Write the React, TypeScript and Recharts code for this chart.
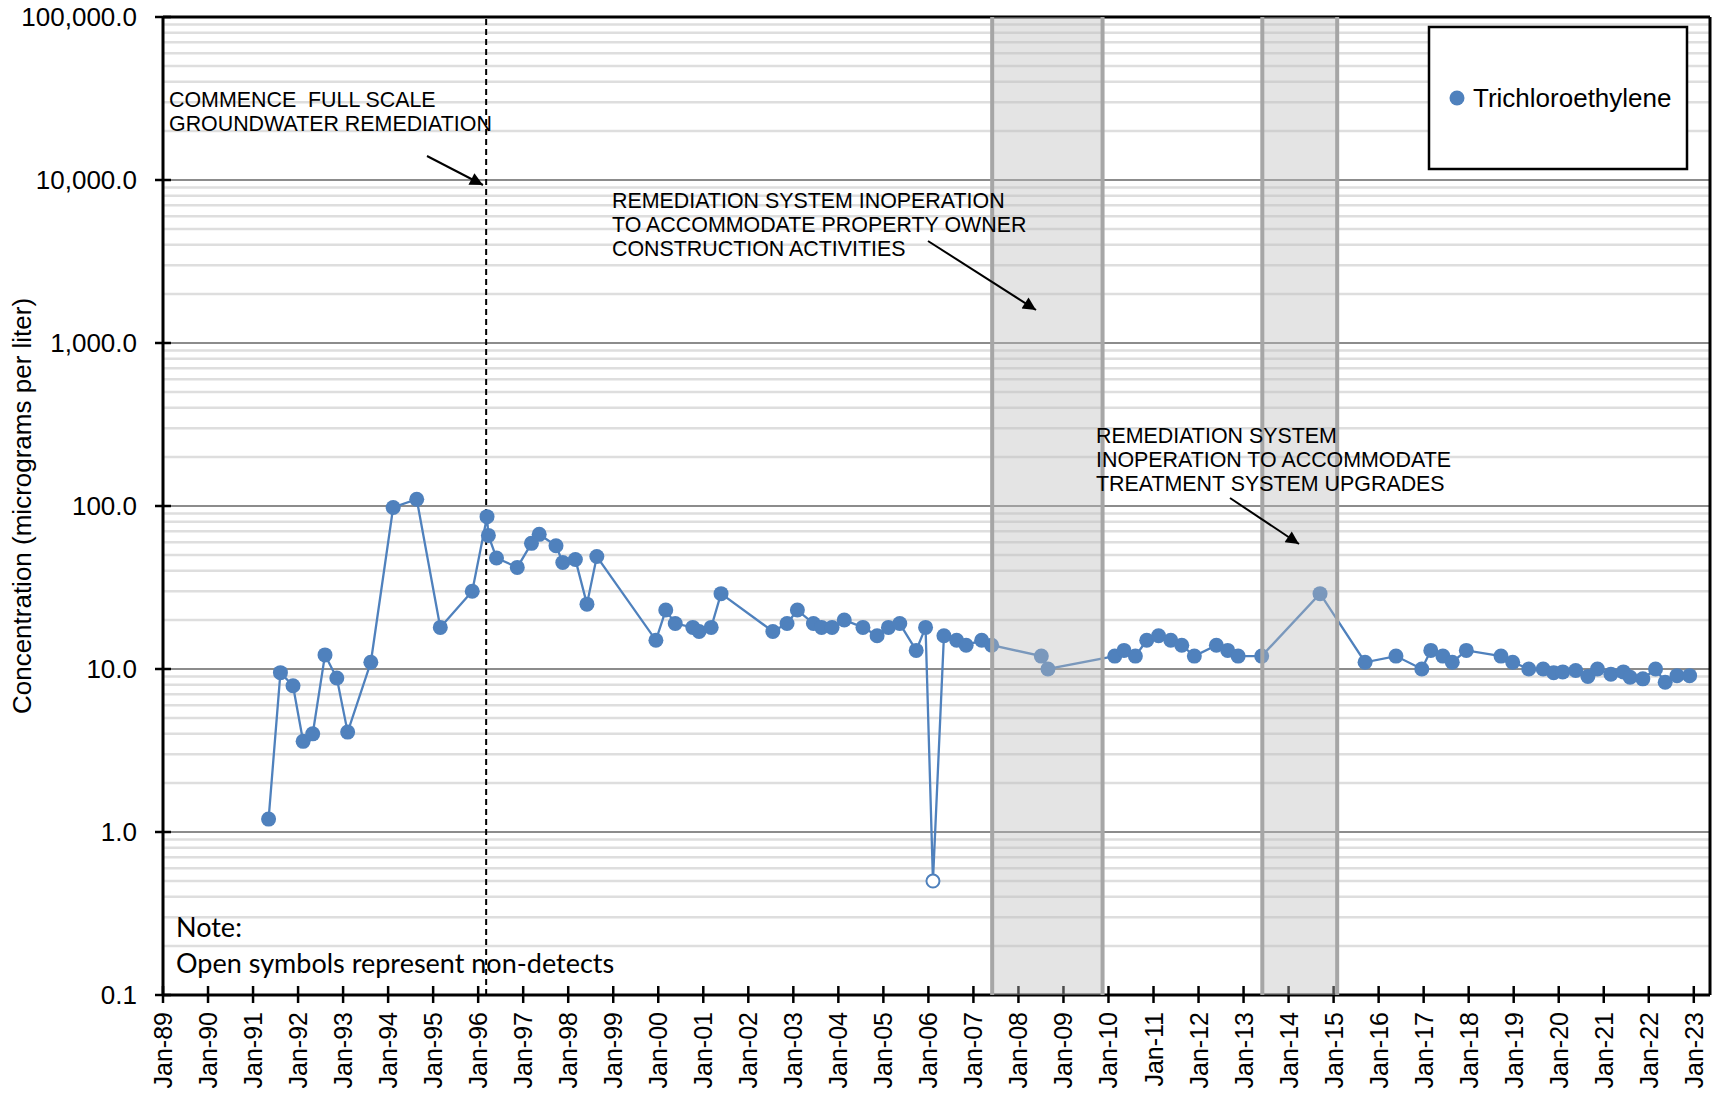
import React from 'react';
import { ComposedChart, Line, XAxis, YAxis, ReferenceLine, ReferenceArea } from 'recharts';

// sample dates (YYYY-MM-DD) and TCE concentrations (ug/L)
const sampleDates = [
  '1991-05-07', '1991-08-11', '1991-11-21', '1992-02-11', '1992-04-29', '1992-08-07', '1992-11-11',
  '1993-02-07', '1993-08-14', '1994-02-11', '1994-08-21', '1995-02-28', '1995-11-14', '1996-03-13',
  '1996-03-24', '1996-05-29', '1996-11-14', '1997-03-09', '1997-05-11', '1997-09-24', '1997-11-18',
  '1998-02-28', '1998-06-02', '1998-08-21', '1999-12-13', '2000-03-02', '2000-05-18', '2000-10-08',
  '2000-11-28', '2001-03-06', '2001-05-25', '2002-07-19', '2002-11-11', '2003-02-03', '2003-06-13',
  '2003-08-18', '2003-11-11', '2004-02-18', '2004-07-19', '2004-11-11', '2005-02-11', '2005-05-14',
  '2005-09-24', '2005-12-09', '2006-02-07', '2006-05-07', '2006-08-18', '2006-11-03', '2007-03-09',
  '2007-05-29', '2008-07-05', '2008-08-28', '2010-02-21', '2010-05-07', '2010-08-07', '2010-11-07',
  '2011-02-11', '2011-05-21', '2011-08-18', '2011-11-28', '2012-05-25', '2012-08-25', '2012-11-18',
  '2013-05-28', '2014-09-13', '2015-09-13', '2016-05-21', '2016-12-17', '2017-02-28', '2017-06-06',
  '2017-08-21', '2017-12-13', '2018-09-20', '2018-12-24', '2019-05-03', '2019-08-28', '2019-11-21',
  '2020-02-03', '2020-05-18', '2020-08-25', '2020-11-11', '2021-02-28', '2021-06-09', '2021-08-03',
  '2021-11-14', '2022-02-25', '2022-05-14', '2022-08-18', '2022-11-28',
];

const tceValues = [
  1.2, 9.5, 7.9, 3.6, 4.0, 12.2, 8.8,
  4.1, 11, 98, 110, 18, 30, 86,
  66, 48, 42, 59, 67, 57, 45,
  47, 25, 49, 15, 23, 19, 18,
  17, 18, 29, 17, 19, 23, 19,
  18, 18, 20, 18, 16, 18, 19,
  13, 18, 0.5, 16, 15, 14, 15,
  14, 12, 10, 12, 13, 12, 15,
  16, 15, 14, 12, 14, 13, 12,
  12, 29, 11, 12, 10, 13, 12,
  11, 13, 12, 11, 10, 10, 9.5,
  9.6, 9.8, 9.0, 10, 9.3, 9.6, 8.9,
  8.7, 10, 8.3, 9.1, 9.1,
];

const nonDetectDates = ['2006-02-07'];

const concTicks = [0.1, 1, 10, 100, 1000, 10000, 100000];
const minorSteps = [2, 3, 4, 5, 6, 7, 8, 9];
const firstYear = 1989;
const lastYear = 2023;

const remediationStart = '1996-03-06';
const inoperationPeriods = [
  { start: '2007-06-02', end: '2009-11-14' },
  { start: '2013-06-02', end: '2015-01-30' },
];

const BLUE = '#4f81bd';
const FONT = '"Liberation Sans", Arial, sans-serif';

const toYear = (s: string) => {
  const [y, m, d] = s.split('-').map(Number);
  const t0 = Date.UTC(y, 0, 1);
  return y + (Date.UTC(y, m - 1, d) - t0) / (Date.UTC(y + 1, 0, 1) - t0);
};

const yearTicks = Array.from({ length: lastYear - firstYear + 1 }, (_, i) => firstYear + i);
const minorGrid = concTicks.slice(0, -1).flatMap((d) => minorSteps.map((s) => +(d * s).toPrecision(3)));
const xMax = 2023.36;

const data = sampleDates.map((d, i) => ({
  t: toYear(d),
  tce: tceValues[i],
  nd: nonDetectDates.includes(d),
}));

const XTick = ({ x, y, payload }: any) => {
  const label = 'Jan-' + String(payload.value).slice(2);
  return (
    <g>
      <line x1={x} x2={x} y1={y - 9} y2={y + 8} stroke="#000" strokeWidth={2.5} />
      <text
        x={x}
        y={y + 17}
        dy="0.36em"
        textAnchor="end"
        transform={`rotate(-90 ${x} ${y + 17})`}
        fontSize={25}
        fontFamily={FONT}
        fill="#000"
      >
        {label}
      </text>
    </g>
  );
};

const YTick = ({ x, y, payload }: any) => {
  const label = Number(payload.value).toLocaleString('en-US', { minimumFractionDigits: 1, maximumFractionDigits: 1 });
  return (
    <g>
      <line x1={x - 8} x2={x + 8} y1={y} y2={y} stroke="#000" strokeWidth={2.5} />
      <text x={x - 26} y={y} dy="0.36em" textAnchor="end" fontSize={26} fontFamily={FONT} fill="#000">
        {label}
      </text>
    </g>
  );
};

const renderDot = (props: any) => {
  const { cx, cy, payload, index } = props;
  if (payload.nd) {
    return <circle key={index} cx={cx} cy={cy} r={6.5} fill="#fff" stroke={BLUE} strokeWidth={2} />;
  }
  return <circle key={index} cx={cx} cy={cy} r={7.5} fill={BLUE} stroke="none" />;
};

const Overlay = () => (
  <svg width={1712} height={1096} style={{ position: 'absolute', left: 0, top: 0, pointerEvents: 'none' }}>
    <defs>
      <marker id="ah" viewBox="0 0 10 10" refX="10" refY="5" markerWidth="17" markerHeight="13" markerUnits="userSpaceOnUse" orient="auto">
        <path d="M0,0 L10,5 L0,10 z" fill="#000" />
      </marker>
    </defs>
    <text
      x={31}
      y={506}
      textAnchor="middle"
      transform="rotate(-90 31 506)"
      fontSize={26}
      fontFamily={FONT}
      fill="#000"
    >
      Concentration (micrograms per liter)
    </text>

    <g fontSize={21.4} fontFamily={FONT} fill="#000">
      <text x={169} y={107} xmlSpace="preserve">COMMENCE  FULL SCALE</text>
      <text x={169} y={131}>GROUNDWATER REMEDIATION</text>

      <text x={612} y={207.5}>REMEDIATION SYSTEM INOPERATION</text>
      <text x={612} y={231.5}>TO ACCOMMODATE PROPERTY OWNER</text>
      <text x={612} y={255.5}>CONSTRUCTION ACTIVITIES</text>

      <text x={1096} y={443}>REMEDIATION SYSTEM</text>
      <text x={1096} y={467}>INOPERATION TO ACCOMMODATE</text>
      <text x={1096} y={491}>TREATMENT SYSTEM UPGRADES</text>
    </g>
    <line x1={427} y1={156} x2={483} y2={185} stroke="#000" strokeWidth={2} markerEnd="url(#ah)" />
    <line x1={928} y1={241} x2={1036} y2={310} stroke="#000" strokeWidth={2} markerEnd="url(#ah)" />
    <line x1={1230} y1={498} x2={1299} y2={544} stroke="#000" strokeWidth={2} markerEnd="url(#ah)" />

    <rect x={1429} y={27} width={258} height={142} fill="#fff" stroke="#000" strokeWidth={2.5} />
    <circle cx={1457} cy={98} r={7.5} fill={BLUE} />
    <text x={1473} y={107} fontSize={26} fontFamily={FONT} fill="#000">
      Trichloroethylene
    </text>

    <g fontSize={27} fontFamily='Lato, "Open Sans", sans-serif' fill="#000">
      <text x={176} y={937}>Note:</text>
      <text x={176} y={973}>Open symbols represent non-detects</text>
    </g>
  </svg>
);

export default function App() {
  return (
    <div style={{ position: 'absolute', left: 0, top: 0, width: 1712, height: 1096, background: '#fff' }}>
      <ComposedChart width={1712} height={1096} data={data} margin={{ top: 17, right: 2, bottom: 0, left: 0 }}>
        <XAxis
          dataKey="t"
          type="number"
          domain={[firstYear, xMax]}
          ticks={yearTicks}
          interval={0}
          allowDataOverflow
          height={101}
          tickSize={0}
          tickMargin={0}
          tickLine={false}
          tick={<XTick />}
          axisLine={{ stroke: '#000', strokeWidth: 3 }}
        />
        <YAxis
          type="number"
          scale="log"
          domain={[0.1, 100000]}
          ticks={concTicks}
          interval={0}
          allowDataOverflow
          width={163}
          tickSize={0}
          tickMargin={0}
          tickLine={false}
          tick={<YTick />}
          axisLine={{ stroke: '#000', strokeWidth: 3 }}
        />

        {minorGrid.map((v) => (
          <ReferenceLine key={'m' + v} y={v} stroke="#dedede" strokeWidth={2.5} zIndex={-60} />
        ))}
        {concTicks.slice(1, -1).map((v) => (
          <ReferenceLine key={'M' + v} y={v} stroke="#8c8c8c" strokeWidth={2} zIndex={-50} />
        ))}

        <ReferenceLine x={toYear(remediationStart)} stroke="#000" strokeWidth={2} strokeDasharray="6 4" zIndex={300} />

        <Line
          dataKey="tce"
          stroke={BLUE}
          strokeWidth={2.3}
          dot={renderDot}
          activeDot={false}
          isAnimationActive={false}
          zIndex={400}
        />

        <ReferenceLine y={100000} stroke="#000" strokeWidth={3} zIndex={470} />
        <ReferenceLine x={xMax} stroke="#000" strokeWidth={3} zIndex={470} />

        {/* shaded periods sit above the series, the axis and its ticks */}
        {inoperationPeriods.map((p) => (
          <ReferenceArea
            key={p.start}
            x1={toYear(p.start)}
            x2={toYear(p.end)}
            fill="#bbbbbb"
            fillOpacity={0.4}
            stroke="none"
            zIndex={2500}
          />
        ))}
        {inoperationPeriods.flatMap((p) => [p.start, p.end]).map((d) => (
          <ReferenceLine key={'b' + d} x={toYear(d)} stroke="#a6a6a6" strokeWidth={4} zIndex={2600} />
        ))}
      </ComposedChart>
      <Overlay />
    </div>
  );
}
